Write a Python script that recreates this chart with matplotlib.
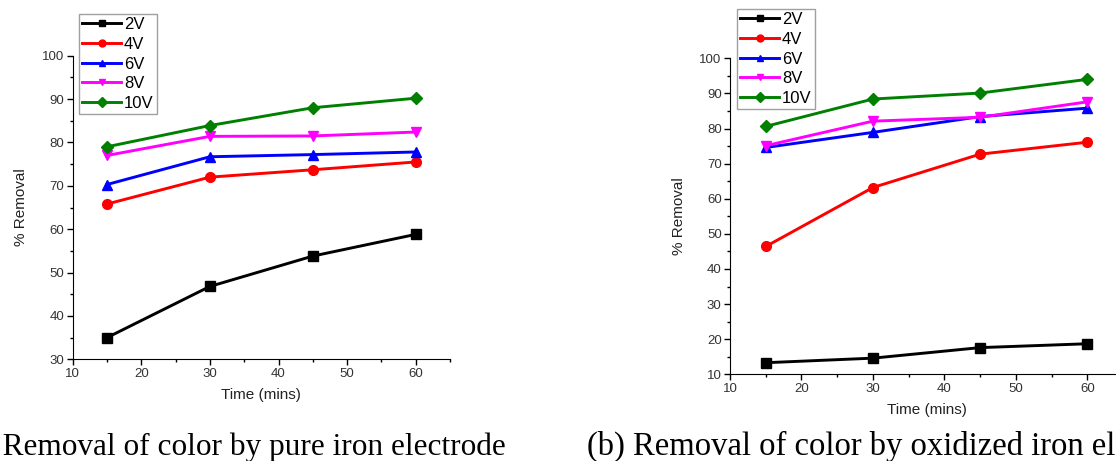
import matplotlib.pyplot as plt
from matplotlib.ticker import MultipleLocator

plt.rcParams['font.family'] = ['Liberation Sans', 'DejaVu Sans']

# data
time = [15, 30, 45, 60]
labels = ['2V', '4V', '6V', '8V', '10V']

pure_2v = [35.0, 46.8, 53.8, 58.8]
pure_4v = [65.8, 72.0, 73.7, 75.5]
pure_6v = [70.3, 76.7, 77.2, 77.8]
pure_8v = [77.0, 81.4, 81.5, 82.4]
pure_10v = [79.0, 83.9, 88.0, 90.2]

oxid_2v = [13.3, 14.6, 17.6, 18.7]
oxid_4v = [46.4, 63.2, 72.7, 76.1]
oxid_6v = [74.6, 78.9, 83.4, 85.8]
oxid_8v = [75.1, 82.1, 83.2, 87.6]
oxid_10v = [80.6, 88.4, 90.1, 94.0]

colors = ['black', 'red', 'blue', 'magenta', 'green']
markers = ['s', 'o', '^', 'v', 'D']
msizes = [6.5, 7, 7, 7, 6]

W, H = 1116, 461
fig = plt.figure(figsize=(W / 100, H / 100), dpi=100)


def px_axes(x0, y0, x1, y1):
    # pixel box (left, top, right, bottom) -> figure fraction
    return fig.add_axes([x0 / W, 1 - y1 / H, (x1 - x0) / W, (y1 - y0) / H])


def draw_panel(ax, series, ylim, leg_xy):
    for i, ys in enumerate(series):
        ax.plot(time, ys, color=colors[i], marker=markers[i], ms=msizes[i],
                lw=2.1, label=labels[i], clip_on=False)
    ax.set_xlim(10, 65)
    ax.set_ylim(*ylim)
    ax.xaxis.set_major_locator(MultipleLocator(10))
    ax.xaxis.set_minor_locator(MultipleLocator(5))
    ax.yaxis.set_major_locator(MultipleLocator(10))
    ax.yaxis.set_minor_locator(MultipleLocator(5))
    ax.spines['top'].set_visible(False)
    ax.spines['right'].set_visible(False)
    ax.tick_params(which='major', direction='out', length=4, width=1, labelsize=9.5,
                   labelcolor='#333333', pad=2)
    ax.tick_params(which='minor', direction='out', length=2.5, width=1)
    ax.set_xlabel('Time (mins)', fontsize=11, labelpad=6, color='#222222')
    ax.set_ylabel('% Removal', fontsize=11, labelpad=10, color='#222222')
    leg = ax.legend(loc='upper left', bbox_to_anchor=(leg_xy[0] / W, 1 - leg_xy[1] / H),
                    bbox_transform=fig.transFigure, fontsize=12,
                    handlelength=2.3, handletextpad=0.2, labelspacing=0.28,
                    borderpad=0.2, borderaxespad=0, fancybox=False, frameon=True)
    leg.get_frame().set_edgecolor('#888888')
    leg.get_frame().set_linewidth(1)
    for h in leg.legend_handles:
        h.set_markersize(5)


ax1 = px_axes(72.7, 55.7, 450, 359.3)
draw_panel(ax1, [pure_2v, pure_4v, pure_6v, pure_8v, pure_10v], (30, 100), (79, 14))

ax2 = px_axes(730, 58.3, 1123, 374.3)
draw_panel(ax2, [oxid_2v, oxid_4v, oxid_6v, oxid_8v, oxid_10v], (10, 100), (737, 9))

# captions (the screenshot is cropped at the edges)
fig.text(506 / W, 1 - 455 / H, '(a) Removal of color by pure iron electrode',
         ha='right', va='baseline', fontsize=22.5, family='Liberation Serif')
fig.text(587 / W, 1 - 455 / H, '(b) Removal of color by oxidized iron electrode',
         ha='left', va='baseline', fontsize=23.5, family='Liberation Serif')

fig.savefig('out.png', dpi=100)
